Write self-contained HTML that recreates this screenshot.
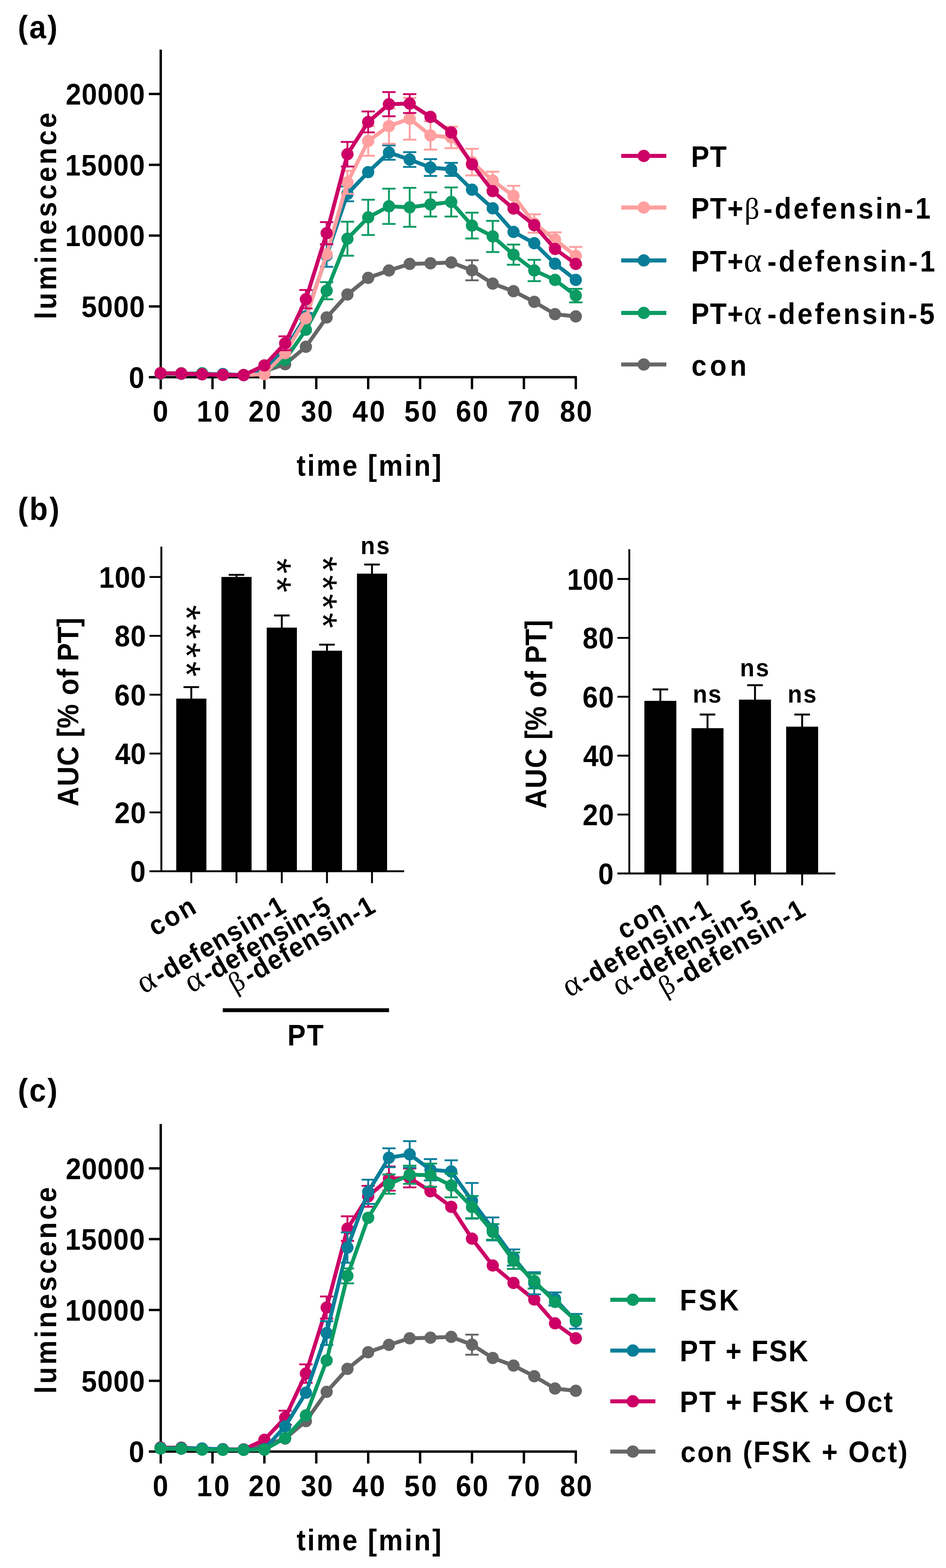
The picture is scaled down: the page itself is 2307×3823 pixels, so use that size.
<!DOCTYPE html>
<html lang="en">
<head>
<meta charset="utf-8">
<title>Figure</title>
<style>
html,body{margin:0;padding:0;background:#fff;}
body{width:2307px;height:3823px;overflow:hidden;}
svg{display:block;}
text{white-space:pre;font-kerning:none;}
</style>
</head>
<body>
<svg width="2307" height="3823" viewBox="0 0 2307 3823" font-family='"Liberation Sans", Arial, Helvetica, sans-serif' font-weight="700" font-size="71.5" fill="#000">
<rect width="2307" height="3823" fill="#fff"/>
<path d="M392 121V948.7M363 919.7H1406.9M363 229.1H392M363 401.8H392M363 574.4H392M363 747.1H392M518.2 919.7V948.7M644.7 919.7V948.7M771.3 919.7V948.7M897.9 919.7V948.7M1024.5 919.7V948.7M1151 919.7V948.7M1277.6 919.7V948.7M1404.2 919.7V948.7" fill="none" stroke="#000" stroke-width="5.8"/>
<g stroke="#666666" fill="#666666">
<path d="M1151 634.4V683.6M1134.8 634.4H1167.2M1134.8 683.6H1167.2" fill="none" stroke-width="4.5"/>
<polyline fill="none" stroke-width="9.4" stroke-linejoin="round" points="391.6,910 442.2,910 492.9,912.5 543.5,914 594.1,914.5 644.7,905 695.4,888 746,845.5 796.6,774 847.3,718 897.9,677.5 948.5,659.5 999.1,643.5 1049.8,642 1100.4,640 1151,659 1201.6,691.5 1252.3,710 1302.9,736 1353.5,766 1404.2,771.5"/>
<circle cx="391.6" cy="910" r="14.9" stroke="none"/>
<circle cx="442.2" cy="910" r="14.9" stroke="none"/>
<circle cx="492.9" cy="912.5" r="14.9" stroke="none"/>
<circle cx="543.5" cy="914" r="14.9" stroke="none"/>
<circle cx="594.1" cy="914.5" r="14.9" stroke="none"/>
<circle cx="644.7" cy="905" r="14.9" stroke="none"/>
<circle cx="695.4" cy="888" r="14.9" stroke="none"/>
<circle cx="746" cy="845.5" r="14.9" stroke="none"/>
<circle cx="796.6" cy="774" r="14.9" stroke="none"/>
<circle cx="847.3" cy="718" r="14.9" stroke="none"/>
<circle cx="897.9" cy="677.5" r="14.9" stroke="none"/>
<circle cx="948.5" cy="659.5" r="14.9" stroke="none"/>
<circle cx="999.1" cy="643.5" r="14.9" stroke="none"/>
<circle cx="1049.8" cy="642" r="14.9" stroke="none"/>
<circle cx="1100.4" cy="640" r="14.9" stroke="none"/>
<circle cx="1151" cy="659" r="14.9" stroke="none"/>
<circle cx="1201.6" cy="691.5" r="14.9" stroke="none"/>
<circle cx="1252.3" cy="710" r="14.9" stroke="none"/>
<circle cx="1302.9" cy="736" r="14.9" stroke="none"/>
<circle cx="1353.5" cy="766" r="14.9" stroke="none"/>
<circle cx="1404.2" cy="771.5" r="14.9" stroke="none"/>
</g>
<g stroke="#0B9B63" fill="#0B9B63">
<path d="M796.6 687.7V729.7M780.4 687.7H812.8M780.4 729.7H812.8M847.3 540.5V623.5M831.1 540.5H863.5M831.1 623.5H863.5M897.9 487V573M881.7 487H914.1M881.7 573H914.1M948.5 460V546M932.3 460H964.7M932.3 546H964.7M999.1 458V553M982.9 458H1015.3M982.9 553H1015.3M1049.8 469V528M1033.6 469H1066M1033.6 528H1066M1100.4 457V528M1084.2 457H1116.6M1084.2 528H1116.6M1151 518.5V581.5M1134.8 518.5H1167.2M1134.8 581.5H1167.2M1201.6 538.4V614.4M1185.4 538.4H1217.8M1185.4 614.4H1217.8M1252.3 596.2V645.4M1236.1 596.2H1268.5M1236.1 645.4H1268.5M1302.9 633.5V685.5M1286.7 633.5H1319.1M1286.7 685.5H1319.1M1404.2 704.3V737.3M1388 704.3H1420.4M1388 737.3H1420.4" fill="none" stroke-width="4.5"/>
<polyline fill="none" stroke-width="9.4" stroke-linejoin="round" points="391.6,911 442.2,911.5 492.9,910 543.5,914 594.1,914.5 644.7,906 695.4,877 746,804 796.6,708.7 847.3,582 897.9,530 948.5,503 999.1,505.5 1049.8,498.5 1100.4,492.5 1151,550 1201.6,576.4 1252.3,620.8 1302.9,659.5 1353.5,682.5 1404.2,720.8"/>
<circle cx="391.6" cy="911" r="14.9" stroke="none"/>
<circle cx="442.2" cy="911.5" r="14.9" stroke="none"/>
<circle cx="492.9" cy="910" r="14.9" stroke="none"/>
<circle cx="543.5" cy="914" r="14.9" stroke="none"/>
<circle cx="594.1" cy="914.5" r="14.9" stroke="none"/>
<circle cx="644.7" cy="906" r="14.9" stroke="none"/>
<circle cx="695.4" cy="877" r="14.9" stroke="none"/>
<circle cx="746" cy="804" r="14.9" stroke="none"/>
<circle cx="796.6" cy="708.7" r="14.9" stroke="none"/>
<circle cx="847.3" cy="582" r="14.9" stroke="none"/>
<circle cx="897.9" cy="530" r="14.9" stroke="none"/>
<circle cx="948.5" cy="503" r="14.9" stroke="none"/>
<circle cx="999.1" cy="505.5" r="14.9" stroke="none"/>
<circle cx="1049.8" cy="498.5" r="14.9" stroke="none"/>
<circle cx="1100.4" cy="492.5" r="14.9" stroke="none"/>
<circle cx="1151" cy="550" r="14.9" stroke="none"/>
<circle cx="1201.6" cy="576.4" r="14.9" stroke="none"/>
<circle cx="1252.3" cy="620.8" r="14.9" stroke="none"/>
<circle cx="1302.9" cy="659.5" r="14.9" stroke="none"/>
<circle cx="1353.5" cy="682.5" r="14.9" stroke="none"/>
<circle cx="1404.2" cy="720.8" r="14.9" stroke="none"/>
</g>
<g stroke="#087E99" fill="#087E99">
<path d="M746 763V779M729.8 763H762.2M729.8 779H762.2M796.6 595.5V650.5M780.4 595.5H812.8M780.4 650.5H812.8M847.3 454.8V490.8M831.1 454.8H863.5M831.1 490.8H863.5M948.5 354.5V389.5M932.3 354.5H964.7M932.3 389.5H964.7M999.1 371V407M982.9 371H1015.3M982.9 407H1015.3M1049.8 388V429M1033.6 388H1066M1033.6 429H1066M1100.4 397V429M1084.2 397H1116.6M1084.2 429H1116.6" fill="none" stroke-width="4.5"/>
<polyline fill="none" stroke-width="9.4" stroke-linejoin="round" points="391.6,910 442.2,911 492.9,912.5 543.5,912 594.1,914.5 644.7,900 695.4,852 746,771 796.6,623 847.3,472.8 897.9,419.6 948.5,372 999.1,389 1049.8,408.5 1100.4,413 1151,462.5 1201.6,508 1252.3,565.5 1302.9,593 1353.5,643 1404.2,682.5"/>
<circle cx="391.6" cy="910" r="14.9" stroke="none"/>
<circle cx="442.2" cy="911" r="14.9" stroke="none"/>
<circle cx="492.9" cy="912.5" r="14.9" stroke="none"/>
<circle cx="543.5" cy="912" r="14.9" stroke="none"/>
<circle cx="594.1" cy="914.5" r="14.9" stroke="none"/>
<circle cx="644.7" cy="900" r="14.9" stroke="none"/>
<circle cx="695.4" cy="852" r="14.9" stroke="none"/>
<circle cx="746" cy="771" r="14.9" stroke="none"/>
<circle cx="796.6" cy="623" r="14.9" stroke="none"/>
<circle cx="847.3" cy="472.8" r="14.9" stroke="none"/>
<circle cx="897.9" cy="419.6" r="14.9" stroke="none"/>
<circle cx="948.5" cy="372" r="14.9" stroke="none"/>
<circle cx="999.1" cy="389" r="14.9" stroke="none"/>
<circle cx="1049.8" cy="408.5" r="14.9" stroke="none"/>
<circle cx="1100.4" cy="413" r="14.9" stroke="none"/>
<circle cx="1151" cy="462.5" r="14.9" stroke="none"/>
<circle cx="1201.6" cy="508" r="14.9" stroke="none"/>
<circle cx="1252.3" cy="565.5" r="14.9" stroke="none"/>
<circle cx="1302.9" cy="593" r="14.9" stroke="none"/>
<circle cx="1353.5" cy="643" r="14.9" stroke="none"/>
<circle cx="1404.2" cy="682.5" r="14.9" stroke="none"/>
</g>
<g stroke="#FF9F9F" fill="#FF9F9F">
<path d="M847.3 416.6V472.6M831.1 416.6H863.5M831.1 472.6H863.5M897.9 307.7V379.7M881.7 307.7H914.1M881.7 379.7H914.1M948.5 264.4V350.4M932.3 264.4H964.7M932.3 350.4H964.7M999.1 238.5V340.5M982.9 238.5H1015.3M982.9 340.5H1015.3M1049.8 295.7V364.7M1033.6 295.7H1066M1033.6 364.7H1066M1100.4 308.8V361.2M1084.2 308.8H1116.6M1084.2 361.2H1116.6M1151 362.7V427.7M1134.8 362.7H1167.2M1134.8 427.7H1167.2M1201.6 418.5V462.5M1185.4 418.5H1217.8M1185.4 462.5H1217.8M1252.3 453V502M1236.1 453H1268.5M1236.1 502H1268.5M1302.9 522.4V567.6M1286.7 522.4H1319.1M1286.7 567.6H1319.1M1353.5 566.5V601.5M1337.3 566.5H1369.7M1337.3 601.5H1369.7M1404.2 602V646M1388 602H1420.4M1388 646H1420.4" fill="none" stroke-width="4.5"/>
<polyline fill="none" stroke-width="9.4" stroke-linejoin="round" points="391.6,910 442.2,911 492.9,912.5 543.5,914 594.1,914.5 644.7,912.2 695.4,861 746,776 796.6,620 847.3,444.6 897.9,343.7 948.5,307.4 999.1,289.5 1049.8,330.2 1100.4,335 1151,395.2 1201.6,440.5 1252.3,477.5 1302.9,545 1353.5,584 1404.2,624"/>
<circle cx="391.6" cy="910" r="14.9" stroke="none"/>
<circle cx="442.2" cy="911" r="14.9" stroke="none"/>
<circle cx="492.9" cy="912.5" r="14.9" stroke="none"/>
<circle cx="543.5" cy="914" r="14.9" stroke="none"/>
<circle cx="594.1" cy="914.5" r="14.9" stroke="none"/>
<circle cx="644.7" cy="912.2" r="14.9" stroke="none"/>
<circle cx="695.4" cy="861" r="14.9" stroke="none"/>
<circle cx="746" cy="776" r="14.9" stroke="none"/>
<circle cx="796.6" cy="620" r="14.9" stroke="none"/>
<circle cx="847.3" cy="444.6" r="14.9" stroke="none"/>
<circle cx="897.9" cy="343.7" r="14.9" stroke="none"/>
<circle cx="948.5" cy="307.4" r="14.9" stroke="none"/>
<circle cx="999.1" cy="289.5" r="14.9" stroke="none"/>
<circle cx="1049.8" cy="330.2" r="14.9" stroke="none"/>
<circle cx="1100.4" cy="335" r="14.9" stroke="none"/>
<circle cx="1151" cy="395.2" r="14.9" stroke="none"/>
<circle cx="1201.6" cy="440.5" r="14.9" stroke="none"/>
<circle cx="1252.3" cy="477.5" r="14.9" stroke="none"/>
<circle cx="1302.9" cy="545" r="14.9" stroke="none"/>
<circle cx="1353.5" cy="584" r="14.9" stroke="none"/>
<circle cx="1404.2" cy="624" r="14.9" stroke="none"/>
</g>
<g stroke="#CC0066" fill="#CC0066">
<path d="M695.4 820V854M679.2 820H711.6M679.2 854H711.6M746 707V752M729.8 707H762.2M729.8 752H762.2M796.6 541.5V595.5M780.4 541.5H812.8M780.4 595.5H812.8M847.3 346V406M831.1 346H863.5M831.1 406H863.5M897.9 271.8V322.8M881.7 271.8H914.1M881.7 322.8H914.1M948.5 224.6V283.6M932.3 224.6H964.7M932.3 283.6H964.7M999.1 229.5V275.5M982.9 229.5H1015.3M982.9 275.5H1015.3" fill="none" stroke-width="4.5"/>
<polyline fill="none" stroke-width="9.4" stroke-linejoin="round" points="391.6,910 442.2,911 492.9,912.5 543.5,914 594.1,914.5 644.7,891 695.4,837 746,729.5 796.6,568.5 847.3,376 897.9,297.3 948.5,254.1 999.1,252.5 1049.8,285 1100.4,323 1151,400.5 1201.6,466 1252.3,508.5 1302.9,549 1353.5,607 1404.2,643.5"/>
<circle cx="391.6" cy="910" r="14.9" stroke="none"/>
<circle cx="442.2" cy="911" r="14.9" stroke="none"/>
<circle cx="492.9" cy="912.5" r="14.9" stroke="none"/>
<circle cx="543.5" cy="914" r="14.9" stroke="none"/>
<circle cx="594.1" cy="914.5" r="14.9" stroke="none"/>
<circle cx="644.7" cy="891" r="14.9" stroke="none"/>
<circle cx="695.4" cy="837" r="14.9" stroke="none"/>
<circle cx="746" cy="729.5" r="14.9" stroke="none"/>
<circle cx="796.6" cy="568.5" r="14.9" stroke="none"/>
<circle cx="847.3" cy="376" r="14.9" stroke="none"/>
<circle cx="897.9" cy="297.3" r="14.9" stroke="none"/>
<circle cx="948.5" cy="254.1" r="14.9" stroke="none"/>
<circle cx="999.1" cy="252.5" r="14.9" stroke="none"/>
<circle cx="1049.8" cy="285" r="14.9" stroke="none"/>
<circle cx="1100.4" cy="323" r="14.9" stroke="none"/>
<circle cx="1151" cy="400.5" r="14.9" stroke="none"/>
<circle cx="1201.6" cy="466" r="14.9" stroke="none"/>
<circle cx="1252.3" cy="508.5" r="14.9" stroke="none"/>
<circle cx="1302.9" cy="549" r="14.9" stroke="none"/>
<circle cx="1353.5" cy="607" r="14.9" stroke="none"/>
<circle cx="1404.2" cy="643.5" r="14.9" stroke="none"/>
</g>
<text transform="scale(0.94 1)" x="170.38" y="255.1" font-size="72" letter-spacing="1.28">20000</text>
<text transform="scale(0.94 1)" x="169.07" y="427.75" font-size="72" letter-spacing="1.61">15000</text>
<text transform="scale(0.94 1)" x="169.07" y="600.4" font-size="72" letter-spacing="1.61">10000</text>
<text transform="scale(0.94 1)" x="211.08" y="773.05" font-size="72" letter-spacing="1.49">5000</text>
<text transform="scale(0.94 1)" x="334.39" y="945.7" font-size="72">0</text>
<text transform="scale(0.94 1)" x="396.41" y="1028.2" font-size="72">0</text>
<text transform="scale(0.94 1)" x="510.34" y="1028.2" font-size="72" letter-spacing="4.97">10</text>
<text transform="scale(0.94 1)" x="644.63" y="1028.2" font-size="72" letter-spacing="4.3">20</text>
<text transform="scale(0.94 1)" x="780.69" y="1028.2" font-size="72" letter-spacing="2.39">30</text>
<text transform="scale(0.94 1)" x="914.34" y="1028.2" font-size="72" letter-spacing="4.49">40</text>
<text transform="scale(0.94 1)" x="1048.96" y="1028.2" font-size="72" letter-spacing="4.02">50</text>
<text transform="scale(0.94 1)" x="1182.68" y="1028.2" font-size="72" letter-spacing="3.7">60</text>
<text transform="scale(0.94 1)" x="1316.8" y="1028.2" font-size="72" letter-spacing="3.41">70</text>
<text transform="scale(0.94 1)" x="1452.71" y="1028.2" font-size="72" letter-spacing="3.13">80</text>
<text transform="scale(0.93 1)" x="777.73" y="1160.4" font-size="71.5" letter-spacing="4.18">time</text>
<text transform="scale(0.93 1)" x="964.48" y="1160.4" font-size="71.5" letter-spacing="4.56">[min]</text>
<text transform="translate(136.6 773.9) rotate(-90) scale(0.93 1)" x="-4.99" y="0" font-size="71.5" letter-spacing="6.26">luminescence</text>
<text transform="scale(0.94 1)" x="46.22" y="93.5" font-size="78" letter-spacing="3.83">(a)</text>
<line x1="1515" y1="380.2" x2="1625" y2="380.2" stroke="#CC0066" stroke-width="9.8"/><circle cx="1570" cy="380.2" r="15" fill="#CC0066"/>
<text transform="scale(0.93 1)" x="1812.21" y="407.2" font-size="71.5" letter-spacing="2.04">PT</text>
<line x1="1515" y1="506" x2="1625" y2="506" stroke="#FF9F9F" stroke-width="9.8"/><circle cx="1570" cy="506" r="15" fill="#FF9F9F"/>
<text transform="scale(0.93 1)" x="1812.21" y="533" font-size="71.5" letter-spacing="1.85">PT+</text>
<text x="1815.46" y="533" font-size="72" font-family='"Liberation Serif", "DejaVu Serif", serif' font-weight="400">β</text>
<text transform="scale(0.93 1)" x="2001.83" y="533" font-size="71.5" letter-spacing="5.7">-defensin-1</text>
<line x1="1515" y1="635" x2="1625" y2="635" stroke="#087E99" stroke-width="9.8"/><circle cx="1570" cy="635" r="15" fill="#087E99"/>
<text transform="scale(0.93 1)" x="1812.21" y="662" font-size="71.5" letter-spacing="1.85">PT+</text>
<text x="1813.8" y="662" font-size="84" font-family='"Liberation Serif", "DejaVu Serif", serif' font-weight="400">α</text>
<text transform="scale(0.93 1)" x="2012.26" y="662" font-size="71.5" letter-spacing="5.85">-defensin-1</text>
<line x1="1515" y1="763" x2="1625" y2="763" stroke="#0B9B63" stroke-width="9.8"/><circle cx="1570" cy="763" r="15" fill="#0B9B63"/>
<text transform="scale(0.93 1)" x="1812.21" y="790" font-size="71.5" letter-spacing="1.85">PT+</text>
<text x="1813.8" y="790" font-size="84" font-family='"Liberation Serif", "DejaVu Serif", serif' font-weight="400">α</text>
<text transform="scale(0.93 1)" x="2012.26" y="790" font-size="71.5" letter-spacing="5.72">-defensin-5</text>
<line x1="1515" y1="888.7" x2="1625" y2="888.7" stroke="#666666" stroke-width="9.8"/><circle cx="1570" cy="888.7" r="15" fill="#666666"/>
<text transform="scale(0.93 1)" x="1813.23" y="915.7" font-size="71.5" letter-spacing="8.71">con</text>
<path d="M392 2740.5V3568.2M363 3539.2H1406.9M363 2848.6H392M363 3021.2H392M363 3193.9H392M363 3366.6H392M518.2 3539.2V3568.2M644.7 3539.2V3568.2M771.3 3539.2V3568.2M897.9 3539.2V3568.2M1024.5 3539.2V3568.2M1151 3539.2V3568.2M1277.6 3539.2V3568.2M1404.2 3539.2V3568.2" fill="none" stroke="#000" stroke-width="5.8"/>
<g stroke="#666666" fill="#666666">
<path d="M1151 3253.9V3303.1M1134.8 3253.9H1167.2M1134.8 3303.1H1167.2" fill="none" stroke-width="4.5"/>
<polyline fill="none" stroke-width="9.4" stroke-linejoin="round" points="391.6,3529.5 442.2,3529.5 492.9,3532 543.5,3533.5 594.1,3534 644.7,3524.5 695.4,3507.5 746,3465 796.6,3393.5 847.3,3337.5 897.9,3297 948.5,3279 999.1,3263 1049.8,3261.5 1100.4,3259.5 1151,3278.5 1201.6,3311 1252.3,3329.5 1302.9,3355.5 1353.5,3385.5 1404.2,3391"/>
<circle cx="391.6" cy="3529.5" r="14.9" stroke="none"/>
<circle cx="442.2" cy="3529.5" r="14.9" stroke="none"/>
<circle cx="492.9" cy="3532" r="14.9" stroke="none"/>
<circle cx="543.5" cy="3533.5" r="14.9" stroke="none"/>
<circle cx="594.1" cy="3534" r="14.9" stroke="none"/>
<circle cx="644.7" cy="3524.5" r="14.9" stroke="none"/>
<circle cx="695.4" cy="3507.5" r="14.9" stroke="none"/>
<circle cx="746" cy="3465" r="14.9" stroke="none"/>
<circle cx="796.6" cy="3393.5" r="14.9" stroke="none"/>
<circle cx="847.3" cy="3337.5" r="14.9" stroke="none"/>
<circle cx="897.9" cy="3297" r="14.9" stroke="none"/>
<circle cx="948.5" cy="3279" r="14.9" stroke="none"/>
<circle cx="999.1" cy="3263" r="14.9" stroke="none"/>
<circle cx="1049.8" cy="3261.5" r="14.9" stroke="none"/>
<circle cx="1100.4" cy="3259.5" r="14.9" stroke="none"/>
<circle cx="1151" cy="3278.5" r="14.9" stroke="none"/>
<circle cx="1201.6" cy="3311" r="14.9" stroke="none"/>
<circle cx="1252.3" cy="3329.5" r="14.9" stroke="none"/>
<circle cx="1302.9" cy="3355.5" r="14.9" stroke="none"/>
<circle cx="1353.5" cy="3385.5" r="14.9" stroke="none"/>
<circle cx="1404.2" cy="3391" r="14.9" stroke="none"/>
</g>
<g stroke="#CC0066" fill="#CC0066">
<path d="M695.4 3439.5V3473.5M679.2 3439.5H711.6M679.2 3473.5H711.6M746 3326.5V3371.5M729.8 3326.5H762.2M729.8 3371.5H762.2M796.6 3161V3215M780.4 3161H812.8M780.4 3215H812.8M847.3 2965.5V3025.5M831.1 2965.5H863.5M831.1 3025.5H863.5M897.9 2891.3V2942.3M881.7 2891.3H914.1M881.7 2942.3H914.1M948.5 2844.1V2903.1M932.3 2844.1H964.7M932.3 2903.1H964.7M999.1 2849V2895M982.9 2849H1015.3M982.9 2895H1015.3" fill="none" stroke-width="4.5"/>
<polyline fill="none" stroke-width="9.4" stroke-linejoin="round" points="391.6,3529.5 442.2,3530.5 492.9,3532 543.5,3533.5 594.1,3534 644.7,3510.5 695.4,3456.5 746,3349 796.6,3188 847.3,2995.5 897.9,2916.8 948.5,2873.6 999.1,2872 1049.8,2904.5 1100.4,2942.5 1151,3020 1201.6,3085.5 1252.3,3128 1302.9,3168.5 1353.5,3226.5 1404.2,3263"/>
<circle cx="391.6" cy="3529.5" r="14.9" stroke="none"/>
<circle cx="442.2" cy="3530.5" r="14.9" stroke="none"/>
<circle cx="492.9" cy="3532" r="14.9" stroke="none"/>
<circle cx="543.5" cy="3533.5" r="14.9" stroke="none"/>
<circle cx="594.1" cy="3534" r="14.9" stroke="none"/>
<circle cx="644.7" cy="3510.5" r="14.9" stroke="none"/>
<circle cx="695.4" cy="3456.5" r="14.9" stroke="none"/>
<circle cx="746" cy="3349" r="14.9" stroke="none"/>
<circle cx="796.6" cy="3188" r="14.9" stroke="none"/>
<circle cx="847.3" cy="2995.5" r="14.9" stroke="none"/>
<circle cx="897.9" cy="2916.8" r="14.9" stroke="none"/>
<circle cx="948.5" cy="2873.6" r="14.9" stroke="none"/>
<circle cx="999.1" cy="2872" r="14.9" stroke="none"/>
<circle cx="1049.8" cy="2904.5" r="14.9" stroke="none"/>
<circle cx="1100.4" cy="2942.5" r="14.9" stroke="none"/>
<circle cx="1151" cy="3020" r="14.9" stroke="none"/>
<circle cx="1201.6" cy="3085.5" r="14.9" stroke="none"/>
<circle cx="1252.3" cy="3128" r="14.9" stroke="none"/>
<circle cx="1302.9" cy="3168.5" r="14.9" stroke="none"/>
<circle cx="1353.5" cy="3226.5" r="14.9" stroke="none"/>
<circle cx="1404.2" cy="3263" r="14.9" stroke="none"/>
</g>
<g stroke="#087E99" fill="#087E99">
<path d="M796.6 3221.2V3279.2M780.4 3221.2H812.8M780.4 3279.2H812.8M847.3 3004.7V3078.7M831.1 3004.7H863.5M831.1 3078.7H863.5M897.9 2876.2V2935.2M881.7 2876.2H914.1M881.7 2935.2H914.1M948.5 2799.7V2845.7M932.3 2799.7H964.7M932.3 2845.7H964.7M999.1 2782.2V2846.8M982.9 2782.2H1015.3M982.9 2846.8H1015.3M1049.8 2826V2878M1033.6 2826H1066M1033.6 2878H1066M1100.4 2829.1V2883.1M1084.2 2829.1H1116.6M1084.2 2883.1H1116.6M1151 2884.2V2971.2M1134.8 2884.2H1167.2M1134.8 2971.2H1167.2M1201.6 2968.2V3024.2M1185.4 2968.2H1217.8M1185.4 3024.2H1217.8M1252.3 3046.2V3085.8M1236.1 3046.2H1268.5M1236.1 3085.8H1268.5M1302.9 3101.7V3155.7M1286.7 3101.7H1319.1M1286.7 3155.7H1319.1M1353.5 3151V3183M1337.3 3151H1369.7M1337.3 3183H1369.7M1404.2 3203.5V3239.5M1388 3203.5H1420.4M1388 3239.5H1420.4" fill="none" stroke-width="4.5"/>
<polyline fill="none" stroke-width="9.4" stroke-linejoin="round" points="391.6,3530.7 442.2,3531.2 492.9,3531.7 543.5,3533.7 594.1,3534.7 644.7,3533.2 695.4,3477.7 746,3395.7 796.6,3250.2 847.3,3041.7 897.9,2905.7 948.5,2822.7 999.1,2814.5 1049.8,2852 1100.4,2856.1 1151,2927.7 1201.6,2996.2 1252.3,3066 1302.9,3128.7 1353.5,3167 1404.2,3221.5"/>
<circle cx="391.6" cy="3530.7" r="14.9" stroke="none"/>
<circle cx="442.2" cy="3531.2" r="14.9" stroke="none"/>
<circle cx="492.9" cy="3531.7" r="14.9" stroke="none"/>
<circle cx="543.5" cy="3533.7" r="14.9" stroke="none"/>
<circle cx="594.1" cy="3534.7" r="14.9" stroke="none"/>
<circle cx="644.7" cy="3533.2" r="14.9" stroke="none"/>
<circle cx="695.4" cy="3477.7" r="14.9" stroke="none"/>
<circle cx="746" cy="3395.7" r="14.9" stroke="none"/>
<circle cx="796.6" cy="3250.2" r="14.9" stroke="none"/>
<circle cx="847.3" cy="3041.7" r="14.9" stroke="none"/>
<circle cx="897.9" cy="2905.7" r="14.9" stroke="none"/>
<circle cx="948.5" cy="2822.7" r="14.9" stroke="none"/>
<circle cx="999.1" cy="2814.5" r="14.9" stroke="none"/>
<circle cx="1049.8" cy="2852" r="14.9" stroke="none"/>
<circle cx="1100.4" cy="2856.1" r="14.9" stroke="none"/>
<circle cx="1151" cy="2927.7" r="14.9" stroke="none"/>
<circle cx="1201.6" cy="2996.2" r="14.9" stroke="none"/>
<circle cx="1252.3" cy="3066" r="14.9" stroke="none"/>
<circle cx="1302.9" cy="3128.7" r="14.9" stroke="none"/>
<circle cx="1353.5" cy="3167" r="14.9" stroke="none"/>
<circle cx="1404.2" cy="3221.5" r="14.9" stroke="none"/>
</g>
<g stroke="#0B9B63" fill="#0B9B63">
<path d="M847.3 3092.5V3128.9M831.1 3092.5H863.5M831.1 3128.9H863.5M948.5 2863.6V2910.6M932.3 2863.6H964.7M932.3 2910.6H964.7M999.1 2841.9V2886.3M982.9 2841.9H1015.3M982.9 2886.3H1015.3M1049.8 2837.1V2893.5M1033.6 2837.1H1066M1033.6 2893.5H1066M1100.4 2861.6V2919.2M1084.2 2861.6H1116.6M1084.2 2919.2H1116.6M1151 2915.9V2969.9M1134.8 2915.9H1167.2M1134.8 2969.9H1167.2M1201.6 2984.5V3022.5M1185.4 2984.5H1217.8M1185.4 3022.5H1217.8M1252.3 3053.7V3093.7M1236.1 3053.7H1268.5M1236.1 3093.7H1268.5M1302.9 3105.5V3141.5M1286.7 3105.5H1319.1M1286.7 3141.5H1319.1" fill="none" stroke-width="4.5"/>
<polyline fill="none" stroke-width="9.4" stroke-linejoin="round" points="391.6,3531.8 442.2,3532.3 492.9,3534.5 543.5,3535 594.1,3535 644.7,3534.5 695.4,3506.3 746,3451 796.6,3317 847.3,3110.7 897.9,2969.1 948.5,2887.1 999.1,2864.1 1049.8,2865.3 1100.4,2890.4 1151,2942.9 1201.6,3003.5 1252.3,3073.7 1302.9,3123.5 1353.5,3174.3 1404.2,3218.7"/>
<circle cx="391.6" cy="3531.8" r="14.9" stroke="none"/>
<circle cx="442.2" cy="3532.3" r="14.9" stroke="none"/>
<circle cx="492.9" cy="3534.5" r="14.9" stroke="none"/>
<circle cx="543.5" cy="3535" r="14.9" stroke="none"/>
<circle cx="594.1" cy="3535" r="14.9" stroke="none"/>
<circle cx="644.7" cy="3534.5" r="14.9" stroke="none"/>
<circle cx="695.4" cy="3506.3" r="14.9" stroke="none"/>
<circle cx="746" cy="3451" r="14.9" stroke="none"/>
<circle cx="796.6" cy="3317" r="14.9" stroke="none"/>
<circle cx="847.3" cy="3110.7" r="14.9" stroke="none"/>
<circle cx="897.9" cy="2969.1" r="14.9" stroke="none"/>
<circle cx="948.5" cy="2887.1" r="14.9" stroke="none"/>
<circle cx="999.1" cy="2864.1" r="14.9" stroke="none"/>
<circle cx="1049.8" cy="2865.3" r="14.9" stroke="none"/>
<circle cx="1100.4" cy="2890.4" r="14.9" stroke="none"/>
<circle cx="1151" cy="2942.9" r="14.9" stroke="none"/>
<circle cx="1201.6" cy="3003.5" r="14.9" stroke="none"/>
<circle cx="1252.3" cy="3073.7" r="14.9" stroke="none"/>
<circle cx="1302.9" cy="3123.5" r="14.9" stroke="none"/>
<circle cx="1353.5" cy="3174.3" r="14.9" stroke="none"/>
<circle cx="1404.2" cy="3218.7" r="14.9" stroke="none"/>
</g>
<text transform="scale(0.94 1)" x="170.38" y="2874.6" font-size="72" letter-spacing="1.28">20000</text>
<text transform="scale(0.94 1)" x="169.07" y="3047.25" font-size="72" letter-spacing="1.61">15000</text>
<text transform="scale(0.94 1)" x="169.07" y="3219.9" font-size="72" letter-spacing="1.61">10000</text>
<text transform="scale(0.94 1)" x="211.08" y="3392.55" font-size="72" letter-spacing="1.49">5000</text>
<text transform="scale(0.94 1)" x="334.39" y="3565.2" font-size="72">0</text>
<text transform="scale(0.94 1)" x="396.41" y="3647.7" font-size="72">0</text>
<text transform="scale(0.94 1)" x="510.34" y="3647.7" font-size="72" letter-spacing="4.97">10</text>
<text transform="scale(0.94 1)" x="644.63" y="3647.7" font-size="72" letter-spacing="4.3">20</text>
<text transform="scale(0.94 1)" x="780.69" y="3647.7" font-size="72" letter-spacing="2.39">30</text>
<text transform="scale(0.94 1)" x="914.34" y="3647.7" font-size="72" letter-spacing="4.49">40</text>
<text transform="scale(0.94 1)" x="1048.96" y="3647.7" font-size="72" letter-spacing="4.02">50</text>
<text transform="scale(0.94 1)" x="1182.68" y="3647.7" font-size="72" letter-spacing="3.7">60</text>
<text transform="scale(0.94 1)" x="1316.8" y="3647.7" font-size="72" letter-spacing="3.41">70</text>
<text transform="scale(0.94 1)" x="1452.71" y="3647.7" font-size="72" letter-spacing="3.13">80</text>
<text transform="scale(0.93 1)" x="777.73" y="3779.9" font-size="71.5" letter-spacing="4.18">time</text>
<text transform="scale(0.93 1)" x="964.48" y="3779.9" font-size="71.5" letter-spacing="4.56">[min]</text>
<text transform="translate(136.6 3393.4) rotate(-90) scale(0.93 1)" x="-4.99" y="0" font-size="71.5" letter-spacing="6.26">luminescence</text>
<text transform="scale(0.94 1)" x="46.22" y="2685.5" font-size="78" letter-spacing="3.83">(c)</text>
<line x1="1488.3" y1="3169" x2="1598.3" y2="3169" stroke="#0B9B63" stroke-width="9.8"/><circle cx="1543.3" cy="3169" r="15" fill="#0B9B63"/>
<text transform="scale(0.93 1)" x="1782.64" y="3195" font-size="71.5" letter-spacing="5.95">FSK</text>
<line x1="1488.3" y1="3292.8" x2="1598.3" y2="3292.8" stroke="#087E99" stroke-width="9.8"/><circle cx="1543.3" cy="3292.8" r="15" fill="#087E99"/>
<text transform="scale(0.93 1)" x="1782.64" y="3318.8" font-size="71.5" letter-spacing="2.97">PT + FSK</text>
<line x1="1488.3" y1="3416.6" x2="1598.3" y2="3416.6" stroke="#CC0066" stroke-width="9.8"/><circle cx="1543.3" cy="3416.6" r="15" fill="#CC0066"/>
<text transform="scale(0.93 1)" x="1782.64" y="3442.6" font-size="71.5" letter-spacing="3.23">PT + FSK + Oct</text>
<line x1="1488.3" y1="3539.2" x2="1598.3" y2="3539.2" stroke="#666666" stroke-width="9.8"/><circle cx="1543.3" cy="3539.2" r="15" fill="#666666"/>
<text transform="scale(0.93 1)" x="1784.63" y="3565.2" font-size="71.5" letter-spacing="4.07">con (FSK + Oct)</text>
<path d="M393.5 1332.7V2126.6M364.5 2124.3H985.6M364.5 1406.7H393.5M364.5 1550.2H393.5M364.5 1693.7H393.5M364.5 1837.3H393.5M364.5 1980.8H393.5M466.5 2124.3V2153.3M576.7 2124.3V2153.3M687.2 2124.3V2153.3M797.4 2124.3V2153.3M907.2 2124.3V2153.3" fill="none" stroke="#000" stroke-width="4.6"/>
<rect x="429.8" y="1703.3" width="73.5" height="421" fill="#000"/>
<rect x="540" y="1406.7" width="73.5" height="717.6" fill="#000"/>
<rect x="650.5" y="1530.2" width="73.5" height="594.1" fill="#000"/>
<rect x="760.6" y="1586.5" width="73.5" height="537.8" fill="#000"/>
<rect x="870.5" y="1398.6" width="73.5" height="725.7" fill="#000"/>
<path d="M466.5 1705.3V1675.2M447.5 1675.2H485.5M576.7 1408.7V1401.5M557.7 1401.5H595.7M687.2 1532.2V1500.6M668.2 1500.6H706.2M797.4 1588.5V1571.7M778.4 1571.7H816.4M907.2 1400.6V1376.4M888.2 1376.4H926.2" fill="none" stroke="#000" stroke-width="4.6"/>
<text transform="scale(0.94 1)" x="256.62" y="1432.7" font-size="72" letter-spacing="0.97">100</text>
<text transform="scale(0.94 1)" x="297.29" y="1576.22" font-size="72" letter-spacing="1.32">80</text>
<text transform="scale(0.94 1)" x="296.94" y="1719.74" font-size="72" letter-spacing="1.67">60</text>
<text transform="scale(0.94 1)" x="298.48" y="1863.26" font-size="72" letter-spacing="0.13">40</text>
<text transform="scale(0.94 1)" x="297.08" y="2006.78" font-size="72" letter-spacing="1.53">20</text>
<text transform="scale(0.94 1)" x="337.79" y="2150.3" font-size="72">0</text>
<text transform="translate(190.8 1964.5) rotate(-90) scale(0.93 1)" x="-1.78" y="0" font-size="71.5" letter-spacing="1.57">AUC</text>
<text transform="translate(190.8 1964.5) rotate(-90) scale(0.93 1)" x="179.53" y="0" font-size="71.5" letter-spacing="-0.41">[%</text>
<text transform="translate(190.8 1964.5) rotate(-90) scale(0.93 1)" x="289.68" y="0" font-size="71.5" letter-spacing="1.94">of</text>
<text transform="translate(190.8 1964.5) rotate(-90) scale(0.93 1)" x="378.87" y="0" font-size="71.5" letter-spacing="-0.61">PT]</text>
<path d="M1534.7 1339V2131.9M1505.7 2129.6H2037.1M1505.7 1411.6H1534.7M1505.7 1555.2H1534.7M1505.7 1698.8H1534.7M1505.7 1842.4H1534.7M1505.7 1986H1534.7M1610.4 2129.6V2158.6M1725.4 2129.6V2158.6M1841.2 2129.6V2158.6M1956.2 2129.6V2158.6" fill="none" stroke="#000" stroke-width="4.6"/>
<rect x="1571.4" y="1708.8" width="78" height="420.8" fill="#000"/>
<rect x="1686.4" y="1775.4" width="78" height="354.2" fill="#000"/>
<rect x="1802.2" y="1705.8" width="78" height="423.8" fill="#000"/>
<rect x="1917.2" y="1771.7" width="78" height="357.9" fill="#000"/>
<path d="M1610.4 1710.8V1680.9M1591.4 1680.9H1629.4M1725.4 1777.4V1742.1M1706.4 1742.1H1744.4M1841.2 1707.8V1670.6M1822.2 1670.6H1860.2M1956.2 1773.7V1742.1M1937.2 1742.1H1975.2" fill="none" stroke="#000" stroke-width="4.6"/>
<text transform="scale(0.94 1)" x="1471.2" y="1437.6" font-size="72" letter-spacing="0.76">100</text>
<text transform="scale(0.94 1)" x="1511.54" y="1581.2" font-size="72" letter-spacing="1.22">80</text>
<text transform="scale(0.94 1)" x="1511.19" y="1724.8" font-size="72" letter-spacing="1.57">60</text>
<text transform="scale(0.94 1)" x="1512.74" y="1868.4" font-size="72" letter-spacing="0.02">40</text>
<text transform="scale(0.94 1)" x="1511.33" y="2012" font-size="72" letter-spacing="1.43">20</text>
<text transform="scale(0.94 1)" x="1551.94" y="2155.6" font-size="72">0</text>
<text transform="translate(1331.8 1970) rotate(-90) scale(0.93 1)" x="-1.78" y="0" font-size="71.5" letter-spacing="1.57">AUC</text>
<text transform="translate(1331.8 1970) rotate(-90) scale(0.93 1)" x="179.53" y="0" font-size="71.5" letter-spacing="-0.41">[%</text>
<text transform="translate(1331.8 1970) rotate(-90) scale(0.93 1)" x="289.68" y="0" font-size="71.5" letter-spacing="1.94">of</text>
<text transform="translate(1331.8 1970) rotate(-90) scale(0.93 1)" x="378.87" y="0" font-size="71.5" letter-spacing="-0.61">PT]</text>
<text transform="scale(0.94 1)" x="46.22" y="1268" font-size="78" letter-spacing="4.14">(b)</text>
<text transform="translate(479.2 2225.5) rotate(-30) scale(0.93 1)" x="-125.2" y="0" font-size="67" letter-spacing="5.12">con</text>
<text transform="translate(693.1 2226.4) rotate(-30)" x="-395.21" y="0" font-size="78.96" font-family='"Liberation Serif", "DejaVu Serif", serif' font-weight="400">α</text>
<text transform="translate(693.1 2226.4) rotate(-30) scale(0.93 1)" x="-374.77" y="0" font-size="67" letter-spacing="2.72">-defensin-1</text>
<text transform="translate(809.5 2224.5) rotate(-30)" x="-395.21" y="0" font-size="78.96" font-family='"Liberation Serif", "DejaVu Serif", serif' font-weight="400">α</text>
<text transform="translate(809.5 2224.5) rotate(-30) scale(0.93 1)" x="-374.77" y="0" font-size="67" letter-spacing="1.93">-defensin-5</text>
<text transform="translate(911.5 2226.4) rotate(-30)" x="-390.56" y="0" font-size="67.68" font-family='"Liberation Serif", "DejaVu Serif", serif' font-weight="400">β</text>
<text transform="translate(911.5 2226.4) rotate(-30) scale(0.93 1)" x="-374.77" y="0" font-size="67" letter-spacing="2.72">-defensin-1</text>
<text transform="translate(1622.6 2233.6) rotate(-30) scale(0.93 1)" x="-125.2" y="0" font-size="67" letter-spacing="5.12">con</text>
<text transform="translate(1730.8 2235) rotate(-30)" x="-395.21" y="0" font-size="78.96" font-family='"Liberation Serif", "DejaVu Serif", serif' font-weight="400">α</text>
<text transform="translate(1730.8 2235) rotate(-30) scale(0.93 1)" x="-374.77" y="0" font-size="67" letter-spacing="2.72">-defensin-1</text>
<text transform="translate(1853 2232.5) rotate(-30)" x="-395.21" y="0" font-size="78.96" font-family='"Liberation Serif", "DejaVu Serif", serif' font-weight="400">α</text>
<text transform="translate(1853 2232.5) rotate(-30) scale(0.93 1)" x="-374.77" y="0" font-size="67" letter-spacing="1.93">-defensin-5</text>
<text transform="translate(1960.3 2235) rotate(-30)" x="-390.56" y="0" font-size="67.68" font-family='"Liberation Serif", "DejaVu Serif", serif' font-weight="400">β</text>
<text transform="translate(1960.3 2235) rotate(-30) scale(0.93 1)" x="-374.77" y="0" font-size="67" letter-spacing="2.72">-defensin-1</text>
<text transform="scale(0.93 1)" x="945.38" y="1351.2" font-size="62" letter-spacing="3.74">ns</text>
<text transform="scale(0.93 1)" x="1816.67" y="1713" font-size="62" letter-spacing="2.56">ns</text>
<text transform="scale(0.93 1)" x="1940.32" y="1649.5" font-size="62" letter-spacing="3.85">ns</text>
<text transform="scale(0.93 1)" x="2065.27" y="1713" font-size="62" letter-spacing="3.2">ns</text>
<text transform="translate(420.5 1476.5) rotate(90)" x="-1.56" y="0" font-size="97" font-weight="400" letter-spacing="8.05">****</text>
<text transform="translate(642.3 1362.5) rotate(90)" x="-1.56" y="0" font-size="97" font-weight="400" letter-spacing="8.05">**</text>
<text transform="translate(754.1 1357.8) rotate(90)" x="-1.56" y="0" font-size="97" font-weight="400" letter-spacing="8.05">****</text>
<line x1="543.2" y1="2463" x2="948.7" y2="2463" stroke="#000" stroke-width="9.5"/>
<text transform="scale(0.93 1)" x="753.71" y="2548.8" font-size="71.5" letter-spacing="3.33">PT</text>
</svg>
</body>
</html>
